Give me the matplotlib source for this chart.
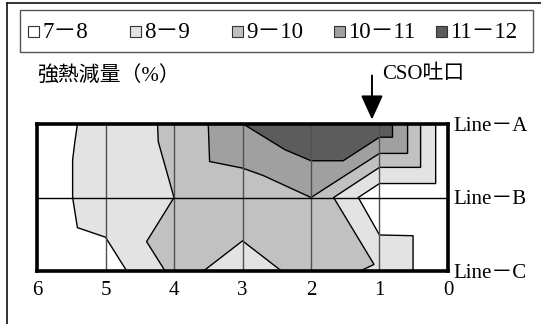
import matplotlib
matplotlib.use('Agg')
import matplotlib.pyplot as plt
from matplotlib.patches import Rectangle
from matplotlib.lines import Line2D

plt.rcParams['font.family'] = ['Liberation Serif', 'Noto Sans CJK JP']

# 距離 (x) と測線位置 (Line-A=2, B=1, C=0)
distances = [6, 5, 4, 3, 2, 1, 0]
line_names = ['Line－A', 'Line－B', 'Line－C']
line_pos = [2, 1, 0]

band_labels = ['7－8', '8－9', '9－10', '10－11', '11－12']
band_colors = ['#ffffff', '#e3e3e3', '#c1c1c1', '#a0a0a0', '#5c5c5c']

# 各しきい値以上となる範囲の境界 (距離, 測線位置)
lvl8_x = [5.41, 5.45, 5.48, 5.48, 5.41, 5.00, 4.69, 0.51, 0.51, 1.00, 1.31, 1.00, 0.18, 0.18]
lvl8_y = [2.00, 1.74, 1.51, 1.00, 0.59, 0.46, 0.00, 0.00, 0.48, 0.49, 1.00, 1.19, 1.19, 2.00]

lvl9_x = [4.24, 4.23, 4.00, 4.40, 4.13, 3.57, 3.00, 2.43, 1.28, 1.08, 1.67, 1.00, 0.40, 0.40]
lvl9_y = [2.00, 1.76, 1.00, 0.40, 0.00, 0.00, 0.41, 0.00, 0.00, 0.09, 1.00, 1.41, 1.41, 2.00]

lvl10_x = [3.50, 3.48, 3.00, 2.70, 2.00, 1.00, 0.59, 0.59]
lvl10_y = [2.00, 1.49, 1.40, 1.30, 1.00, 1.60, 1.60, 2.00]

lvl11_x = [2.99, 2.38, 2.00, 1.53, 1.00, 0.81, 0.81]
lvl11_y = [2.00, 1.65, 1.50, 1.50, 1.82, 1.82, 2.00]

cso_x = 1.11

W, H = 541, 324
fig = plt.figure(figsize=(W / 100, H / 100), dpi=100)


def fx(px):
    return px / W


def fy(py):
    return 1 - py / H


ax = fig.add_axes([fx(37), fy(271), (448 - 37) / W, (271 - 124) / H])
ax.set_xlim(6, 0)
ax.set_ylim(0, 2)

levels = [(lvl8_x, lvl8_y), (lvl9_x, lvl9_y), (lvl10_x, lvl10_y), (lvl11_x, lvl11_y)]
for (xs, ys), col in zip(levels, band_colors[1:]):
    ax.fill(xs, ys, facecolor=col, edgecolor='black', lw=1.0, zorder=2)

# グリッド線
for d in distances[1:-1]:
    ax.axvline(d, color='#505050', lw=1.0, zorder=3)
ax.axhline(1, color='black', lw=1.0, zorder=3)

for sp in ax.spines.values():
    sp.set_linewidth(2.6)
    sp.set_zorder(5)

ax.set_xticks(distances)
ax.set_xticklabels([str(d) for d in distances], fontsize=15)
ax.tick_params(axis='x', length=0, pad=7)
ax.yaxis.tick_right()
ax.set_yticks(line_pos)
ax.set_yticklabels(line_names, fontsize=15)
ax.tick_params(axis='y', length=0, pad=4)

# CSO吐口の矢印
ax.annotate('', xy=(cso_x, 2.06), xytext=(cso_x, 2.66),
            arrowprops=dict(arrowstyle='-|>,head_length=1.5,head_width=0.68',
                            mutation_scale=10, color='black', lw=1.4,
                            shrinkA=0, shrinkB=0),
            annotation_clip=False)
ax.text(0.96, 2.68, 'CSO吐口', fontsize=15, ha='left', va='center', clip_on=False)
ax.text(6.0, 2.64, '強熱減量（%）', fontsize=15, ha='left', va='center', clip_on=False)

# 凡例
fig.add_artist(Rectangle((fx(20), fy(52)), (533 - 20) / W, 42 / H,
                         transform=fig.transFigure, fill=False,
                         edgecolor='#555555', lw=1.0))
for i, (lab, col) in enumerate(zip(band_labels, band_colors)):
    x0 = 28 + 102 * i
    fig.add_artist(Rectangle((fx(x0), fy(37)), 11 / W, 11 / H,
                             transform=fig.transFigure, facecolor=col,
                             edgecolor='#333333', lw=0.8))
    fig.text(fx(x0 + 14), fy(32), lab, fontsize=16.5, ha='left', va='center')

# 外枠
fig.add_artist(Line2D([fx(7), fx(7)], [0, fy(3)], transform=fig.transFigure,
                      color='#222222', lw=1.3))
fig.add_artist(Line2D([fx(7), 1], [fy(3), fy(3)], transform=fig.transFigure,
                      color='#222222', lw=1.3))

fig.savefig('out.png', dpi=100)
